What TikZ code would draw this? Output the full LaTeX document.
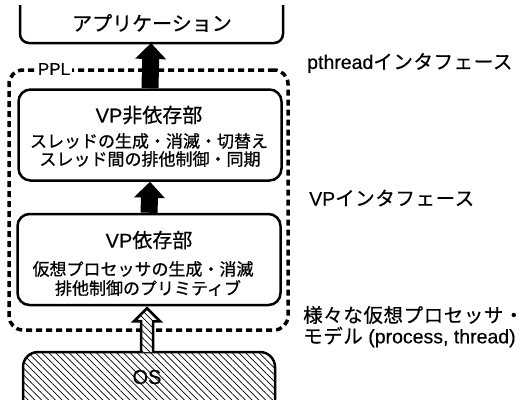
\documentclass[tikz,border=0pt]{standalone}
\usepackage{fontspec}
\setmainfont[FakeBold=0.5]{Liberation Sans}
\newfontfamily\jpfont[FakeBold=0.7]{Noto Sans CJK JP}
\newfontfamily\jpwide[FakeBold=0.5,LetterSpace=3]{Noto Sans CJK JP}
\newcommand\J[1]{{\jpfont #1}}
\newcommand\JW[1]{{\jpwide #1}}
\usetikzlibrary{arrows.meta,patterns.meta,calc}

\begin{document}
\begin{tikzpicture}[x=1pt,y=-1pt,
  frame/.style={line width=2.5pt},
  box/.style={draw, line width=2.5pt, rounded corners=12pt,
    minimum width=263pt, minimum height=91pt, inner sep=0pt},
  pplbox/.style={draw, line width=3.5pt, dash pattern=on 6pt off 4pt,
    rounded corners=14pt, minimum width=279pt, minimum height=260pt, inner sep=0pt},
  title/.style={font=\fontsize{20}{24}\selectfont, inner sep=0pt},
  body/.style={font=\fontsize{17}{20}\selectfont, inner sep=0pt},
  side/.style={font=\fontsize{19.5}{23}\selectfont, anchor=west, inner sep=0pt},
  fatarrow/.style={line width=17pt, -{Triangle[length=16pt,width=30pt]}},
  hatch/.style={pattern={Lines[angle=-45,distance=4.8pt,line width=0.7pt]}},
  harrow/.style={line width=2.5pt, preaction={fill=white}, hatch},
]
\useasboundingbox (0,0) rectangle (526,399);
\clip (0,0) rectangle (526,399);

% application layer (open at the top)
\draw[frame, rounded corners=9pt] (20,5) -- (20,43) -- (283,43) -- (283,5);
\node[title] (app) at (152,23) {\J{アプリケーション}};
\coordinate (appbot) at (151,43);

% PPL frame
\node[pplbox] (ppl) at (148.5,200) {};
\node[font=\fontsize{17}{20}\selectfont, fill=white, inner sep=1.5pt] (ppllabel) at (54,69) {PPL};

% VP-independent part
\node[box] (vp1) at (150,135) {};
\node[title] (vp1t) at (149,115) {VP\J{非依存部}};
\node[body] (vp1a) at (149,141) {\J{スレッドの生成・消滅・切替え}};
\node[body] (vp1b) at (150,159) {\J{スレッド間の排他制御・同期}};

% VP-dependent part
\node[box] (vp2) at (149,259.5) {};
\node[title] (vp2t) at (149,240) {VP\J{依存部}};
\node[body] (vp2a) at (143,269) {\J{仮想プロセッサの生成・消滅}};
\node[body] (vp2b) at (148,288) {\J{排他制御のプリミティブ}};

% OS layer
\draw[frame, rounded corners=15pt, hatch] (23,430) -- (23,352) -- (275,352) -- (275,430);
\coordinate (osTop) at (147,352);
\node[font=\fontsize{20}{24}\selectfont, inner sep=0pt] (os) at (147,377) {OS};

% interface arrows
\draw[fatarrow] (vp1.north) -- (appbot);
\draw[fatarrow] (vp2.north) -- (vp1.south);
\draw[harrow] let \p1=(osTop), \p2=(vp2.south) in
  (\x1-6pt,\y1) -- (\x1-6pt,\y2-15pt) -- (\x1-13pt,\y2-15pt) -- (\x1,\y2-2pt)
  -- (\x1+13pt,\y2-15pt) -- (\x1+6pt,\y2-15pt) -- (\x1+6pt,\y1);

% interface labels
\node[side] (pthr) at (307,63) {pthread\JW{インタフェース}};
\node[side] (vpif) at (309,198) {VP\JW{インタフェース}};
\node[side] (m1) at (303,315) {\JW{様々な仮想プロセッサ・}};
\node[side] (m2) at (303,337) {\JW{モデル} (process, thread)};
\end{tikzpicture}
\end{document}
